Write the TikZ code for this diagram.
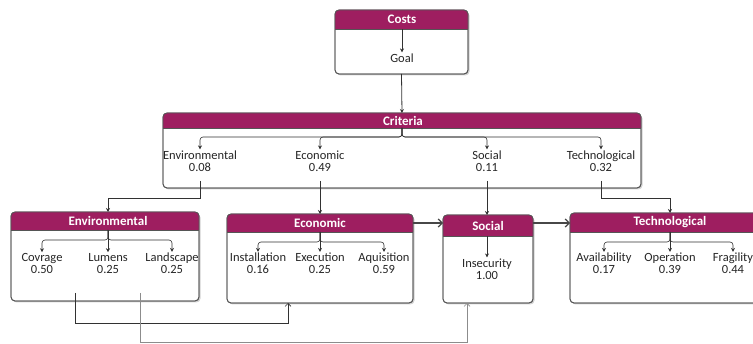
\documentclass[tikz,border=0pt]{standalone}
\usepackage{fontspec}
\setmainfont{Carlito}
\usetikzlibrary{arrows.meta,shadows,calc}
\definecolor{hdr}{RGB}{158,30,96}
\definecolor{ink}{RGB}{50,50,50}
\definecolor{rim}{RGB}{85,85,85}
\tikzset{
  panel/.style={draw=rim, line width=0.8pt, fill=white, rounded corners=4pt,
    outer sep=0pt, inner sep=0pt,
    drop shadow={shadow xshift=1.5pt, shadow yshift=-1.5pt, opacity=0.35}},
  paneltitle/.style={text=white, font=\fontsize{13}{12}\selectfont\bfseries, inner sep=0pt},
  lbl/.style={align=center, font=\fontsize{12.5}{12}\selectfont, inner sep=1pt, text=black!85},
  tip/.style={-{Stealth[length=4pt,width=4pt]}},
  br/.style={draw=ink, line width=0.6pt, rounded corners=3pt, tip},
  link/.style={draw=ink, line width=0.8pt, tip},
  flow/.style={draw=ink!90, line width=1.2pt, -{Straight Barb[length=4pt,width=8pt]}},
  back/.style={draw=ink, line width=0.7pt, -{Straight Barb[length=3pt,width=6pt]}},
}
% #1 name, #2 left, #3 top, #4 right, #5 bottom, #6 header height
\newcommand\mkpanel[6]{%
  \node[panel, anchor=north west, minimum width={#4-#2}, minimum height={#5-#3}] (#1) at (#2,#3) {};
  \fill[hdr] ($(#1.north west)+(0,#6)$) [rounded corners=4pt] -- (#1.north west) -- (#1.north east)
    [sharp corners] -- ($(#1.north east)+(0,#6)$) -- cycle;
  \draw[rim, line width=0.5pt] ($(#1.north west)+(0,#6)$) -- ($(#1.north east)+(0,#6)$);
  \draw[rim, line width=0.8pt, rounded corners=4pt] (#1.north west) rectangle (#1.south east);
}
\begin{document}
\begin{tikzpicture}[x=1pt, y=-1pt]
\useasboundingbox (0,0) rectangle (753,344);
\clip (0,0) rectangle (753,344);

% ---------- panels ----------
\mkpanel{costs}{335}{10}{468}{74}{19}
\node[paneltitle] (costsT) at (402,19.5) {Costs};
\mkpanel{crit}{163}{113}{641}{188}{15}
\node[paneltitle] (critT) at (403,120.5) {Criteria};
\mkpanel{env}{11}{212}{199}{301}{18}
\node[paneltitle] (envT) at (108,221) {Environmental};
\mkpanel{eco}{227}{214}{413}{303}{18}
\node[paneltitle] (ecoT) at (320,223) {Economic};
\mkpanel{soc}{443}{215}{533}{303}{21}
\node[paneltitle] (socT) at (488,225.5) {Social};
\mkpanel{tec}{570}{213}{772}{303}{19}
\node[paneltitle] (tecT) at (670,222.5) {Technological};

% ---------- labels ----------
\node[lbl] (goal) at (402,58) {Goal};

\node[lbl] (cEnv) at (200,161) {Environmental\\0.08};
\node[lbl] (cEco) at (320,161) {Economic\\0.49};
\node[lbl] (cSoc) at (487,161) {Social\\0.11};
\node[lbl] (cTec) at (601,161) {Technological\\0.32};

\node[lbl] (eCov) at (42,263.5) {Covrage\\0.50};
\node[lbl] (eLum) at (108,263.5) {Lumens\\0.25};
\node[lbl] (eLan) at (172,263.5) {Landscape\\0.25};

\node[lbl] (kIns) at (258,263.5) {Installation\\0.16};
\node[lbl] (kExe) at (320,263.5) {Execution\\0.25};
\node[lbl] (kAqu) at (384,263.5) {Aquisition\\0.59};

\node[lbl] (sIns) at (487,269) {Insecurity\\1.00};

\node[lbl] (tAva) at (604,263.5) {Availability\\0.17};
\node[lbl] (tOpe) at (670,263.5) {Operation\\0.39};
\node[lbl] (tFra) at (733,263.5) {Fragility\\0.44};

% ---------- header anchors ----------
\coordinate (costsH) at (402,29);
\coordinate (critH) at (402,128);
\coordinate (envH) at (108,230);
\coordinate (ecoH) at (320,232);
\coordinate (socH) at (487,236);
\coordinate (tecH) at (670,232);

% ---------- arrows inside panels ----------
\draw[br] (costsH) -- (goal.north);

\draw[br] (critH) -- ++(0,9) -| (cEnv.north);
\draw[br] (critH) -- ++(0,9) -| (cEco.north);
\draw[br] (critH) -- ++(0,9) -| (cSoc.north);
\draw[br] (critH) -- ++(0,9) -| (cTec.north);

\draw[br] (envH) -- ++(0,10) -| (eCov.north);
\draw[br] (envH) -- (eLum.north);
\draw[br] (envH) -- ++(0,10) -| (eLan.north);

\draw[br] (ecoH) -- ++(0,10) -| (kIns.north);
\draw[br] (ecoH) -- (kExe.north);
\draw[br] (ecoH) -- ++(0,10) -| (kAqu.north);

\draw[br] (socH) -- (sIns.north);

\draw[br] (tecH) -- ++(0,10) -| (tAva.north);
\draw[br] (tecH) -- (tOpe.north);
\draw[br] (tecH) -- ++(0,10) -| (tFra.north);

% ---------- arrows between panels ----------
\draw[link] (costs.south) -- (crit.north);

\coordinate (envOut) at (200,181);
\coordinate (ecoOut) at (320,181);
\coordinate (socOut) at (487,181);
\coordinate (tecOut) at (601,181);
\draw[link] (envOut) |- (108,198) -- (env.north -| envH);
\draw[link] (ecoOut) -- (eco.north -| ecoOut);
\draw[link] (socOut) -- (soc.north -| socOut);
\draw[link] (tecOut) |- (670,198) -- (tec.north -| tecH);

\draw[flow] (eco.east |- ecoT) -- (soc.west |- ecoT);
\draw[flow] (soc.east |- ecoT) -- (tec.west |- ecoT);

% ---------- feedback lines below ----------
\coordinate (fbA) at (75,293);
\coordinate (fbB) at (140,293);
\draw[back] (fbA) |- (288,323) -- (eco.south -| 288,0);
\draw[back, draw=black!45] (fbB) |- (467,342) -- (soc.south -| 467,0);
\end{tikzpicture}
\end{document}
